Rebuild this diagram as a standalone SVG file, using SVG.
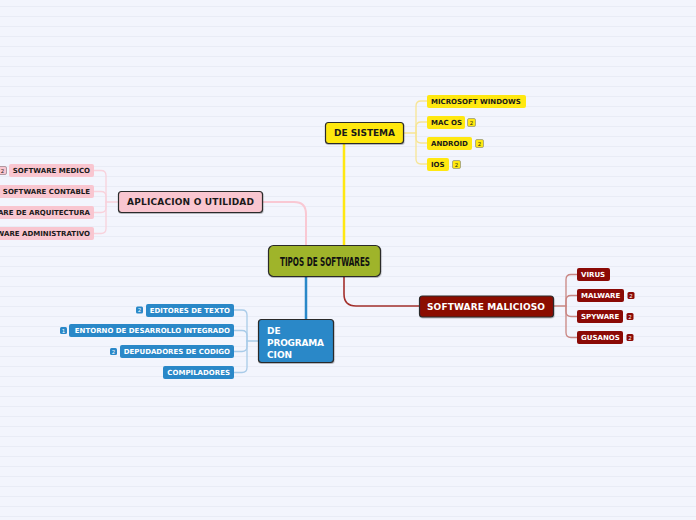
<svg xmlns="http://www.w3.org/2000/svg" width="696" height="520" viewBox="0 0 696 520">
<defs>
<pattern id="grid" x="0" y="0" width="696" height="10" patternUnits="userSpaceOnUse">
<rect width="696" height="10" fill="#f3f5fd"/>
<line x1="0" y1="6.5" x2="696" y2="6.5" stroke="#e9ecf6" stroke-width="1"/>
</pattern>
<filter id="sh" x="-10%" y="-10%" width="130%" height="140%">
<feDropShadow dx="0.5" dy="1" stdDeviation="0.6" flood-color="#000" flood-opacity="0.25"/>
</filter>
</defs>
<style>
.main{stroke:#2b2b2b;stroke-width:1.2;filter:url(#sh)}
.mt{font-family:"DejaVu Sans",Verdana,sans-serif;font-weight:bold;font-size:9px}
.ct{font-family:"DejaVu Sans",Verdana,sans-serif;font-weight:bold;font-size:7px}
.bt{font-family:"DejaVu Sans",Verdana,sans-serif;font-size:5.5px;text-anchor:middle}
.y{fill:#ffe811}.p{fill:#f9c6d0}.b{fill:#2a88c8}.r{fill:#8b0a06}
.dk{fill:#1a1a1a}.wh{fill:#ffffff}
.con{fill:none;stroke-linecap:round}
</style>
<rect width="696" height="520" fill="url(#grid)"/>

<g id="connectors">
<path class="con" d="M344 245 V144" stroke="#ffe811" stroke-width="2.5"/>
<path class="con" d="M306 245 V214 Q306 202 294 202 H263" stroke="#f9c8d3" stroke-width="2"/>
<path class="con" d="M306 277 V319" stroke="#2a88c8" stroke-width="2.5"/>
<path class="con" d="M344 277 V294 Q344 306 356 306 H419" stroke="#a3302c" stroke-width="1.6"/>
<g stroke="#f7e594" stroke-width="1.3" class="con">
<path d="M403 133 H416 V106 Q416 101 421 101 H427"/>
<path d="M416 133 V127 Q416 122 421 122 H427"/>
<path d="M416 133 V138 Q416 143 421 143 H427"/>
<path d="M416 133 V159 Q416 164 421 164 H427"/>
</g>
<g stroke="#f8d2dc" stroke-width="1.3" class="con">
<path d="M118 202 H106 V175.5 Q106 170.5 101 170.5 H94"/>
<path d="M106 202 V196.5 Q106 191.5 101 191.5 H94"/>
<path d="M106 202 V207.5 Q106 212.5 101 212.5 H94"/>
<path d="M106 202 V228.5 Q106 233.5 101 233.5 H94"/>
</g>
<g stroke="#a9cbe8" stroke-width="1.3" class="con">
<path d="M258 341 H247 V315 Q247 310 242 310 H234"/>
<path d="M247 341 V335.5 Q247 330.5 242 330.5 H234"/>
<path d="M247 341 V346.5 Q247 351.5 242 351.5 H234"/>
<path d="M247 341 V367.5 Q247 372.5 242 372.5 H234"/>
</g>
<g stroke="#c98683" stroke-width="1.3" class="con">
<path d="M553 306 H566 V279.5 Q566 274.5 571 274.5 H577"/>
<path d="M566 306 V300.5 Q566 295.5 571 295.5 H577"/>
<path d="M566 306 V311.5 Q566 316.5 571 316.5 H577"/>
<path d="M566 306 V332.5 Q566 337.5 571 337.5 H577"/>
</g>
</g>

<g id="central">
<rect x="268.5" y="245.5" width="112" height="31" rx="5" fill="#9fb42c" class="main"/>
<text x="325" y="265.5" font-family="'DejaVu Sans Condensed','Liberation Sans Narrow',sans-serif" font-weight="bold" font-size="12" text-anchor="middle" textLength="90" lengthAdjust="spacingAndGlyphs" fill="#111">TIPOS DE SOFTWARES</text>
</g>

<g id="de-sistema">
<rect x="325.5" y="122.5" width="78" height="21" rx="3" class="y main"/>
<text x="334" y="136.3" class="mt dk" textLength="61" lengthAdjust="spacing">DE SISTEMA</text>
</g>
<g id="microsoft-windows">
<rect x="427" y="95" width="99" height="13" rx="2" class="y"/>
<text x="431" y="104.3" class="ct dk">MICROSOFT WINDOWS</text>
</g>
<g id="mac-os">
<rect x="427" y="116" width="38" height="13" rx="2" class="y"/>
<text x="431" y="125.3" class="ct dk">MAC OS</text>
<rect x="467.5" y="118.5" width="8" height="8" rx="1.5" class="y" stroke="#9a9a7a" stroke-width="0.8"/>
<text x="471.5" y="124.7" class="bt dk">2</text>
</g>
<g id="android">
<rect x="427" y="137" width="45" height="13" rx="2" class="y"/>
<text x="431" y="146.3" class="ct dk">ANDROID</text>
<rect x="475.5" y="139.5" width="8" height="8" rx="1.5" class="y" stroke="#9a9a7a" stroke-width="0.8"/>
<text x="479.5" y="145.7" class="bt dk">2</text>
</g>
<g id="ios">
<rect x="427" y="158" width="22" height="13" rx="2" class="y"/>
<text x="431" y="167.3" class="ct dk">IOS</text>
<rect x="452.5" y="160.5" width="8" height="8" rx="1.5" class="y" stroke="#9a9a7a" stroke-width="0.8"/>
<text x="456.5" y="166.7" class="bt dk">2</text>
</g>

<g id="aplicacion">
<rect x="118.5" y="191.5" width="144" height="21" rx="3" class="p main"/>
<text x="127" y="205.3" class="mt dk" textLength="127" lengthAdjust="spacing">APLICACION O UTILIDAD</text>
</g>
<g id="software-medico">
<rect x="9" y="164" width="85" height="13" rx="2" class="p"/>
<text x="90" y="173.3" class="ct dk" text-anchor="end">SOFTWARE MEDICO</text>
<rect x="-1.5" y="166.5" width="8" height="8" rx="1.5" class="p" stroke="#a08890" stroke-width="0.8"/>
<text x="2.5" y="172.7" class="bt dk">2</text>
</g>
<g id="software-contable">
<rect x="-3" y="185" width="97" height="13" rx="2" class="p"/>
<text x="90" y="194.3" class="ct dk" text-anchor="end">SOFTWARE CONTABLE</text>
</g>
<g id="software-arquitectura">
<rect x="-40" y="206" width="134" height="13" rx="2" class="p"/>
<text x="90" y="215.3" class="ct dk" text-anchor="end">SOFTWARE DE ARQUITECTURA</text>
</g>
<g id="software-administrativo">
<rect x="-40" y="227" width="134" height="13" rx="2" class="p"/>
<text x="90" y="236.3" class="ct dk" text-anchor="end">SOFTWARE ADMINISTRATIVO</text>
</g>

<g id="de-programacion">
<rect x="258.5" y="319.5" width="75" height="43" rx="3" class="b main" stroke="#e8eef8"/>
<text class="mt wh"><tspan x="267" y="333.5">DE</tspan><tspan x="267" y="345.5" textLength="57" lengthAdjust="spacing">PROGRAMA</tspan><tspan x="267" y="357.5">CION</tspan></text>
</g>
<g id="editores">
<rect x="146" y="304" width="88" height="13" rx="2" class="b"/>
<text x="230" y="313.3" class="ct wh" text-anchor="end">EDITORES DE TEXTO</text>
<rect x="136" y="306.5" width="7" height="7" rx="1.5" class="b"/>
<text x="139.5" y="312" class="bt wh">2</text>
</g>
<g id="entorno">
<rect x="69" y="324" width="165" height="13" rx="2" class="b"/>
<text x="230" y="333.3" class="ct wh" text-anchor="end">ENTORNO DE DESARROLLO INTEGRADO</text>
<rect x="60" y="327" width="7" height="7" rx="1.5" class="b"/>
<text x="63.5" y="332.5" class="bt wh">1</text>
</g>
<g id="depuradores">
<rect x="120" y="345" width="114" height="13" rx="2" class="b"/>
<text x="230" y="354.3" class="ct wh" text-anchor="end">DEPUDADORES DE CODIGO</text>
<rect x="110" y="348" width="7" height="7" rx="1.5" class="b"/>
<text x="113.5" y="353.5" class="bt wh">2</text>
</g>
<g id="compiladores">
<rect x="163" y="366" width="71" height="13" rx="2" class="b"/>
<text x="230" y="375.3" class="ct wh" text-anchor="end">COMPILADORES</text>
</g>

<g id="software-malicioso">
<rect x="419.5" y="296" width="134" height="21" rx="3" class="r main" stroke="#e8e0e0"/>
<text x="427" y="309.8" class="mt wh" textLength="118" lengthAdjust="spacing">SOFTWARE MALICIOSO</text>
</g>
<g id="virus">
<rect x="577" y="268" width="33" height="13" rx="2" class="r"/>
<text x="581" y="277.3" class="ct wh">VIRUS</text>
</g>
<g id="malware">
<rect x="577" y="289" width="47" height="13" rx="2" class="r"/>
<text x="581" y="298.3" class="ct wh">MALWARE</text>
<rect x="627.5" y="292" width="7" height="7" rx="1.5" class="r"/>
<text x="631" y="297.5" class="bt wh">2</text>
</g>
<g id="spyware">
<rect x="577" y="310" width="46" height="13" rx="2" class="r"/>
<text x="581" y="319.3" class="ct wh">SPYWARE</text>
<rect x="626.5" y="313" width="7" height="7" rx="1.5" class="r"/>
<text x="630" y="318.5" class="bt wh">2</text>
</g>
<g id="gusanos">
<rect x="577" y="331" width="46" height="13" rx="2" class="r"/>
<text x="581" y="340.3" class="ct wh">GUSANOS</text>
<rect x="626.5" y="334" width="7" height="7" rx="1.5" class="r"/>
<text x="630" y="339.5" class="bt wh">2</text>
</g>
</svg>
